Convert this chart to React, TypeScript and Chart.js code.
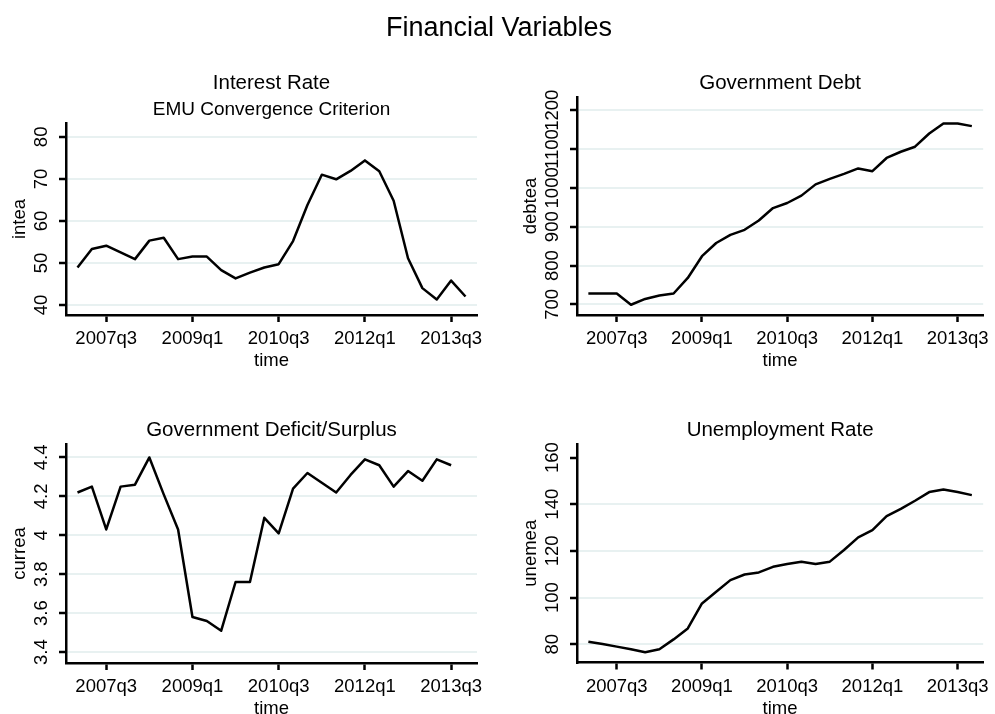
import React, { useEffect, useRef } from 'react';
import { Chart, registerables } from 'chart.js';

Chart.register(...registerables);

// ---------- data ----------
const quarters = [
  '2007q1', '2007q2', '2007q3', '2007q4',
  '2008q1', '2008q2', '2008q3', '2008q4',
  '2009q1', '2009q2', '2009q3', '2009q4',
  '2010q1', '2010q2', '2010q3', '2010q4',
  '2011q1', '2011q2', '2011q3', '2011q4',
  '2012q1', '2012q2', '2012q3', '2012q4',
  '2013q1', '2013q2', '2013q3', '2013q4',
];
const xTickLabels = ['2007q3', '2009q1', '2010q3', '2012q1', '2013q3'];

const intea = [48.9, 53.3, 54.1, 52.5, 50.9, 55.3, 56.0, 50.9, 51.5, 51.5, 48.3, 46.3, 47.7, 48.9,
  49.7, 55.2, 63.8, 71.0, 69.9, 71.9, 74.4, 71.8, 64.8, 51.1, 44.0, 41.3, 45.8, 42.0];
const inteaTicks = [40, 50, 60, 70, 80];

const debtea = [728, 728, 728, 699, 714, 723, 728, 768, 824, 858, 879, 892, 916, 948,
  961, 980, 1009, 1023, 1036, 1050, 1043, 1077, 1093, 1106, 1140, 1166, 1166, 1159];
const debteaTicks = [700, 800, 900, 1000, 1100, 1200];

const currea = [4.22, 4.25, 4.03, 4.25, 4.26, 4.40, 4.21, 4.03, 3.58, 3.56, 3.51, 3.76, 3.76, 4.09,
  4.01, 4.24, 4.32, 4.27, 4.22, 4.31, 4.39, 4.36, 4.25, 4.33, 4.28, 4.39, 4.36];
const curreaTicks = [3.4, 3.6, 3.8, 4, 4.2, 4.4];

const unemea = [81.1, 80.1, 79.0, 77.9, 76.6, 77.9, 82.1, 86.8, 97.5, 102.5, 107.5, 109.9, 110.8, 113.2,
  114.4, 115.4, 114.4, 115.4, 120.4, 125.8, 128.9, 134.9, 138.0, 141.5, 145.2, 146.3, 145.2, 143.9];
const unemeaTicks = [80, 100, 120, 140, 160];

const mainTitle = 'Financial Variables';

// ---------- styling / layout ----------
const W = 995;
const H = 714;
const FONT = '"Liberation Sans", Arial, Helvetica, sans-serif';
const GRID = 'rgb(232,241,241)';
const Y_AXIS_W = 60;
const X_AXIS_H = 40;
const LINE_W = 2.5;

type Spec = {
  title: string;
  subtitle?: string;
  yTitle: string;
  values: number[];
  yTicks: number[];
  yMin: number;
  yMax: number;
  hiddenGrid: number[];
  L: number; R: number; T: number; B: number;
  main?: boolean;
};

const specs: Spec[] = [
  { title: 'Interest Rate', subtitle: 'EMU Convergence Criterion', yTitle: 'intea', values: intea,
    yTicks: inteaTicks, yMin: 37.6, yMax: 83.3, hiddenGrid: [], L: 66, R: 477, T: 123, B: 315, main: true },
  { title: 'Government Debt', yTitle: 'debtea', values: debtea,
    yTicks: debteaTicks, yMin: 672.6, yMax: 1234, hiddenGrid: [], L: 577, R: 987, T: 97, B: 315 },
  { title: 'Government Deficit/Surplus', yTitle: 'currea', values: currea,
    yTicks: curreaTicks, yMin: 3.344, yMax: 4.469, hiddenGrid: [], L: 66, R: 477, T: 444, B: 663 },
  { title: 'Unemployment Rate', yTitle: 'unemea', values: unemea,
    yTicks: unemeaTicks, yMin: 72.2, yMax: 165.8, hiddenGrid: [160], L: 577, R: 987, T: 444, B: 662.5 },
];

const panelText = {
  id: 'panelText',
  afterDraw(chart: any, _args: any, opts: any) {
    const { ctx, chartArea } = chart;
    const { left, right, top, bottom } = chartArea;
    const cx = (left + right) / 2;
    ctx.save();
    ctx.fillStyle = '#000';
    ctx.textAlign = 'center';
    ctx.textBaseline = 'alphabetic';
    if (opts.main) {
      ctx.font = `27px ${FONT}`;
      ctx.fillText(mainTitle, 499, 36);
    }
    if (opts.subtitle) {
      ctx.font = `20.5px ${FONT}`;
      ctx.fillText(opts.title, cx, top - 34);
      ctx.font = `19px ${FONT}`;
      ctx.fillText(opts.subtitle, cx, top - 8);
    } else {
      ctx.font = `20.5px ${FONT}`;
      ctx.fillText(opts.title, cx, top - 8);
    }
    // x axis title
    ctx.font = `18.5px ${FONT}`;
    ctx.fillText('time', cx, bottom + 51);
    // y tick labels (rotated)
    const ys = chart.scales.y;
    ctx.textBaseline = 'middle';
    ctx.font = `18.5px ${FONT}`;
    for (const t of ys.ticks) {
      const py = ys.getPixelForValue(t.value);
      ctx.save();
      ctx.translate(left - 24, py);
      ctx.rotate(-Math.PI / 2);
      ctx.fillText(String(t.value), 0, 0);
      ctx.restore();
    }
    // y axis title
    ctx.save();
    ctx.translate(left - 46, (top + bottom) / 2);
    ctx.rotate(-Math.PI / 2);
    ctx.fillText(opts.yTitle, 0, 0);
    ctx.restore();
    ctx.restore();
  },
};

function buildConfig(s: Spec): any {
  return {
    type: 'line',
    data: {
      datasets: [{
        data: s.values.map((v, i) => ({ x: i, y: v })),
        borderColor: '#000',
        borderWidth: LINE_W,
        borderJoinStyle: 'round',
        pointRadius: 0,
        tension: 0,
        fill: false,
      }],
    },
    options: {
      responsive: false,
      animation: false,
      devicePixelRatio: 1,
      events: [],
      layout: {
        padding: { left: s.L - Y_AXIS_W, right: W - s.R, top: s.T, bottom: H - s.B - X_AXIS_H },
      },
      plugins: {
        legend: { display: false },
        tooltip: { enabled: false },
        title: { display: false },
        panelText: { main: !!s.main, title: s.title, subtitle: s.subtitle, yTitle: s.yTitle },
      },
      scales: {
        x: {
          type: 'linear',
          bounds: 'data',
          min: -0.8,
          max: 27.8,
          afterFit: (sc: any) => { sc.height = X_AXIS_H; },
          afterBuildTicks: (sc: any) => { sc.ticks = xTickLabels.map((l) => ({ value: quarters.indexOf(l) })); },
          ticks: {
            callback: (v: number) => quarters[Math.round(v)] ?? '',
            font: { size: 18.5, family: FONT },
            color: '#000',
            padding: 6,
            maxRotation: 0,
            minRotation: 0,
            autoSkip: false,
          },
          grid: { drawOnChartArea: false, drawTicks: true, tickLength: 7, tickColor: '#000', tickWidth: LINE_W },
          border: { display: true, color: '#000', width: LINE_W },
        },
        y: {
          type: 'linear',
          bounds: 'data',
          min: s.yMin,
          max: s.yMax,
          afterFit: (sc: any) => { sc.width = Y_AXIS_W; },
          afterBuildTicks: (sc: any) => { sc.ticks = s.yTicks.map((v) => ({ value: v })); },
          ticks: { display: false },
          grid: {
            drawOnChartArea: true,
            drawTicks: true,
            color: (c: any) => (c.tick && s.hiddenGrid.includes(c.tick.value) ? 'rgba(0,0,0,0)' : GRID),
            lineWidth: 2,
            tickLength: 7,
            tickColor: '#000',
            tickWidth: LINE_W,
          },
          border: { display: true, color: '#000', width: LINE_W },
        },
      },
    },
    plugins: [panelText],
  };
}

function Panel({ spec }: { spec: Spec }) {
  const ref = useRef<HTMLCanvasElement>(null);
  useEffect(() => {
    const chart = new Chart(ref.current as HTMLCanvasElement, buildConfig(spec));
    return () => chart.destroy();
  }, [spec]);
  return (
    <canvas
      ref={ref}
      width={W}
      height={H}
      style={{ position: 'absolute', left: 0, top: 0, width: W, height: H }}
    />
  );
}

export default function App() {
  return (
    <div style={{ position: 'absolute', left: 0, top: 0, width: W, height: H, background: '#fff', overflow: 'hidden' }}>
      {specs.map((s) => (
        <Panel key={s.yTitle} spec={s} />
      ))}
    </div>
  );
}
